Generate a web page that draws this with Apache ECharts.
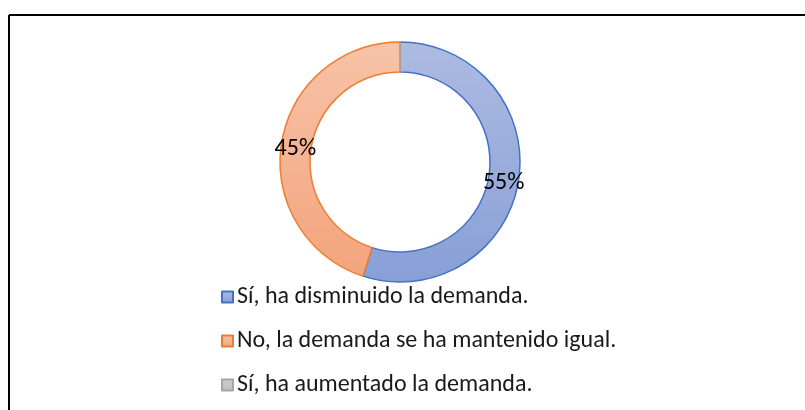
<!DOCTYPE html>
<html>
<head>
<meta charset="utf-8">
<script src="https://cdn.jsdelivr.net/npm/echarts@6/dist/echarts.min.js"></script>
<style>
html,body{margin:0;padding:0;background:#fff;}
#c{width:805px;height:410px;}
</style>
</head>
<body>
<div id="c"></div>
<script>
const categories = ["Sí, ha disminuido la demanda.", "No, la demanda se ha mantenido igual.", "Sí, ha aumentado la demanda."];
const values = [55, 45, 0];

const fills = [
  {top: '#adbbe2', bottom: '#889fd6', border: '#4472c4', offset: [-3, 4]},
  {top: '#f7c3a8', bottom: '#f3a47c', border: '#ed7d31', offset: [2, 4]},
  {top: '#cfcfcf', bottom: '#bdbdbd', border: '#a5a5a5', offset: [0, 0]}
];

const chart = echarts.init(document.getElementById('c'), null, {renderer: 'canvas'});
const fontFam = 'Carlito, "Open Sans", "Liberation Sans", sans-serif';

chart.setOption({
  animation: false,
  backgroundColor: '#fff',
  graphic: [
    {type: 'line', shape: {x1: 9, y1: 15, x2: 805, y2: 15}, style: {stroke: '#000', lineWidth: 2}},
    {type: 'line', shape: {x1: 9, y1: 15, x2: 9, y2: 410}, style: {stroke: '#000', lineWidth: 2}}
  ],
  legend: {
    orient: 'vertical',
    left: 216,
    top: 280,
    itemWidth: 11,
    itemHeight: 11,
    itemGap: 20,
    icon: 'rect',
    textStyle: {fontSize: 24, color: '#1a1a1a', fontFamily: fontFam, padding: [0, 0, 0, -1]},
    data: categories
  },
  series: [{
    type: 'pie',
    center: [400, 162],
    radius: [90, 120],
    startAngle: 90,
    clockwise: true,
    avoidLabelOverlap: false,
    stillShowZeroSum: true,
    label: {
      show: true,
      position: 'inside',
      formatter: p => p.value > 0 ? p.value + '%' : '',
      fontSize: 24,
      color: '#000',
      fontFamily: fontFam
    },
    labelLine: {show: false},
    emphasis: {disabled: true},
    data: categories.map((name, i) => ({
      name: name,
      value: values[i],
      label: {offset: fills[i].offset},
      itemStyle: {
        color: new echarts.graphic.LinearGradient(0, 0, 0, 1, [
          {offset: 0, color: fills[i].top},
          {offset: 1, color: fills[i].bottom}
        ]),
        borderColor: fills[i].border,
        borderWidth: 1.5
      }
    }))
  }]
});
</script>
</body>
</html>
